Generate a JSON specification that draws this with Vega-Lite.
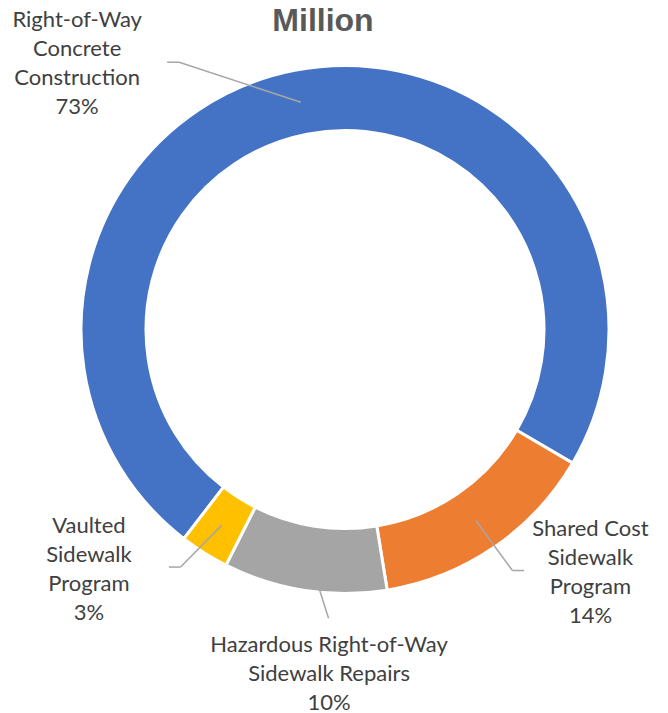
{
  "$schema": "https://vega.github.io/schema/vega-lite/v6.json",
  "autosize": "none",
  "width": 646,
  "height": 579,
  "padding": {"left": 22, "top": 40, "right": 0, "bottom": 94},
  "background": "white",
  "title": {"text": "Million", "font": "Liberation Sans", "fontSize": 32, "fontWeight": "bold", "color": "#595959", "anchor": "middle", "offset": 5, "dx": -22, "dy": 34},
  "config": {"view": {"stroke": null}},
  "data": {"values": [
    {"name": "Right-of-Way Concrete Construction", "value": 73, "order": 1, "label": "Right-of-Way\nConcrete\nConstruction\n73%"},
    {"name": "Shared Cost Sidewalk Program", "value": 14, "order": 2, "label": "Shared Cost\nSidewalk\nProgram\n14%"},
    {"name": "Hazardous Right-of-Way Sidewalk Repairs", "value": 10, "order": 3, "label": "Hazardous Right-of-Way\nSidewalk Repairs\n10%"},
    {"name": "Vaulted Sidewalk Program", "value": 3, "order": 4, "label": "Vaulted\nSidewalk\nProgram\n3%"}
  ]},
  "transform": [
    {"joinaggregate": [{"op": "sum", "field": "value", "as": "total"}]},
    {"stack": "value", "groupby": [], "sort": [{"field": "order", "order": "ascending"}], "as": ["v0", "v1"]},
    {"calculate": "3.798 + PI * (datum.v0 + datum.v1) / datum.total", "as": "mid"},
    {"calculate": "231.5 * sin(datum.mid)", "as": "px"},
    {"calculate": "231.5 * cos(datum.mid)", "as": "py"}
  ],
  "layer": [
    {
      "mark": {"type": "arc", "innerRadius": 199, "outerRadius": 264, "stroke": "white", "strokeWidth": 3},
      "encoding": {
        "theta": {"field": "value", "type": "quantitative", "stack": true, "scale": {"range": [3.798, 10.0812]}},
        "order": {"field": "order", "type": "quantitative"},
        "color": {"field": "name", "type": "nominal", "legend": null,
          "scale": {"domain": ["Right-of-Way Concrete Construction", "Shared Cost Sidewalk Program", "Hazardous Right-of-Way Sidewalk Repairs", "Vaulted Sidewalk Program"],
                    "range": ["#4472C4", "#ED7D31", "#A5A5A5", "#FFC000"]}}
      }
    },
    {
      "transform": [{"filter": {"field": "order", "equal": 1}}],
      "mark": {"type": "rule", "color": "#a6a6a6", "strokeWidth": 1.5, "x2Offset": -121.7, "y2Offset": -40},
      "encoding": {
        "x": {"field": "px", "type": "quantitative", "axis": null, "scale": {"domain": [-323, 323], "nice": false, "zero": false}},
        "y": {"field": "py", "type": "quantitative", "axis": null, "scale": {"domain": [-289.5, 289.5], "nice": false, "zero": false}},
        "x2": {"field": "px"}, "y2": {"field": "py"}
      }
    },
    {
      "transform": [{"filter": {"field": "order", "equal": 1}}],
      "mark": {"type": "rule", "color": "#a6a6a6", "strokeWidth": 1.5, "xOffset": -121.7, "yOffset": -40, "x2Offset": -133.7, "y2Offset": -40},
      "encoding": {
        "x": {"field": "px", "type": "quantitative"}, "y": {"field": "py", "type": "quantitative"},
        "x2": {"field": "px"}, "y2": {"field": "py"}
      }
    },
    {
      "transform": [{"filter": {"field": "order", "equal": 2}}],
      "mark": {"type": "rule", "color": "#a6a6a6", "strokeWidth": 1.5, "x2Offset": 36.7, "y2Offset": 50},
      "encoding": {
        "x": {"field": "px", "type": "quantitative"}, "y": {"field": "py", "type": "quantitative"},
        "x2": {"field": "px"}, "y2": {"field": "py"}
      }
    },
    {
      "transform": [{"filter": {"field": "order", "equal": 2}}],
      "mark": {"type": "rule", "color": "#a6a6a6", "strokeWidth": 1.5, "xOffset": 36.7, "yOffset": 50, "x2Offset": 48.4, "y2Offset": 50},
      "encoding": {
        "x": {"field": "px", "type": "quantitative"}, "y": {"field": "py", "type": "quantitative"},
        "x2": {"field": "px"}, "y2": {"field": "py"}
      }
    },
    {
      "transform": [{"filter": {"field": "order", "equal": 3}}],
      "mark": {"type": "rule", "color": "#a6a6a6", "strokeWidth": 1.5, "x2Offset": 19, "y2Offset": 60},
      "encoding": {
        "x": {"field": "px", "type": "quantitative"}, "y": {"field": "py", "type": "quantitative"},
        "x2": {"field": "px"}, "y2": {"field": "py"}
      }
    },
    {
      "transform": [{"filter": {"field": "order", "equal": 4}}],
      "mark": {"type": "rule", "color": "#a6a6a6", "strokeWidth": 1.5, "x2Offset": -41, "y2Offset": 41.7},
      "encoding": {
        "x": {"field": "px", "type": "quantitative"}, "y": {"field": "py", "type": "quantitative"},
        "x2": {"field": "px"}, "y2": {"field": "py"}
      }
    },
    {
      "transform": [{"filter": {"field": "order", "equal": 4}}],
      "mark": {"type": "rule", "color": "#a6a6a6", "strokeWidth": 1.5, "xOffset": -41, "yOffset": 41.7, "x2Offset": -52.7, "y2Offset": 41.7},
      "encoding": {
        "x": {"field": "px", "type": "quantitative"}, "y": {"field": "py", "type": "quantitative"},
        "x2": {"field": "px"}, "y2": {"field": "py"}
      }
    },
    {
      "transform": [{"filter": {"field": "order", "equal": 1}}],
      "mark": {"type": "text", "font": "Lato", "fontSize": 22, "lineHeight": 29, "lineBreak": "\n", "color": "#404040", "align": "center", "baseline": "middle", "dx": -223.7, "dy": -81.8},
      "encoding": {"x": {"field": "px", "type": "quantitative"}, "y": {"field": "py", "type": "quantitative"}, "text": {"field": "label"}}
    },
    {
      "transform": [{"filter": {"field": "order", "equal": 2}}],
      "mark": {"type": "text", "font": "Lato", "fontSize": 22, "lineHeight": 29, "lineBreak": "\n", "color": "#404040", "align": "center", "baseline": "middle", "dx": 114.7, "dy": 8},
      "encoding": {"x": {"field": "px", "type": "quantitative"}, "y": {"field": "py", "type": "quantitative"}, "text": {"field": "label"}}
    },
    {
      "transform": [{"filter": {"field": "order", "equal": 3}}],
      "mark": {"type": "text", "font": "Lato", "fontSize": 22, "lineHeight": 29, "lineBreak": "\n", "color": "#404040", "align": "center", "baseline": "middle", "dx": 19.5, "dy": 86.7},
      "encoding": {"x": {"field": "px", "type": "quantitative"}, "y": {"field": "py", "type": "quantitative"}, "text": {"field": "label"}}
    },
    {
      "transform": [{"filter": {"field": "order", "equal": 4}}],
      "mark": {"type": "text", "font": "Lato", "fontSize": 22, "lineHeight": 29, "lineBreak": "\n", "color": "#404040", "align": "center", "baseline": "middle", "dx": -132.7, "dy": 0.2},
      "encoding": {"x": {"field": "px", "type": "quantitative"}, "y": {"field": "py", "type": "quantitative"}, "text": {"field": "label"}}
    }
  ]
}
